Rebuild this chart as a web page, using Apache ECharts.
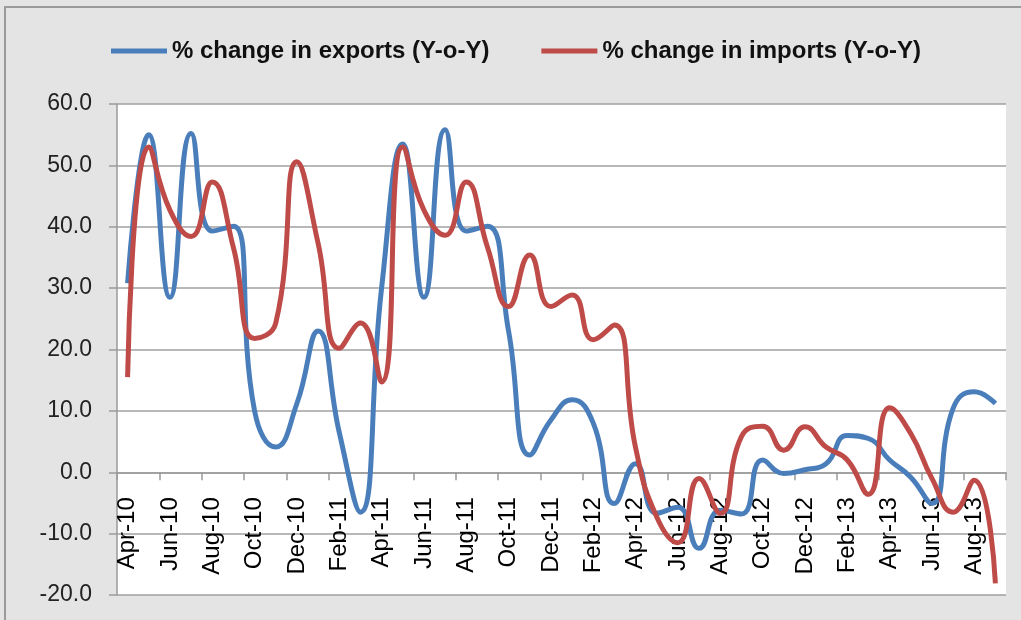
<!DOCTYPE html>
<html>
<head>
<meta charset="utf-8">
<script src="https://cdn.jsdelivr.net/npm/echarts@6/dist/echarts.min.js"></script>
<style>
  html, body { margin: 0; padding: 0; background: #e4e4e4; }
  #chart { width: 1021px; height: 620px; }
</style>
</head>
<body>
<div id="chart"></div>
<script>
var months = ['Apr-10', 'May-10', 'Jun-10', 'Jul-10', 'Aug-10', 'Sep-10', 'Oct-10', 'Nov-10', 'Dec-10', 'Jan-11',
    'Feb-11', 'Mar-11', 'Apr-11', 'May-11', 'Jun-11', 'Jul-11', 'Aug-11', 'Sep-11', 'Oct-11', 'Nov-11',
    'Dec-11', 'Jan-12', 'Feb-12', 'Mar-12', 'Apr-12', 'May-12', 'Jun-12', 'Jul-12', 'Aug-12', 'Sep-12',
    'Oct-12', 'Nov-12', 'Dec-12', 'Jan-13', 'Feb-13', 'Mar-13', 'Apr-13', 'May-13', 'Jun-13', 'Jul-13',
    'Aug-13', 'Sep-13'];

// % change in exports (Y-o-Y)
var exportsChg = [30.8, 55.0, 28.5, 55.2, 39.3, 40.1, 10.0, 4.1, 11.2, 23.0,
    6.5, -6.5, 30.0, 53.5, 28.5, 55.8, 39.3, 40.1, 23.0, 2.8,
    8.5, 11.8, 8.0, -5.1, 1.4, -6.7, -5.7, -12.4, -6.2, -6.8,
    2.0, -0.2, 0.4, 1.4, 6.0, 5.5, 2.0, -0.8, -5.1, 10.4,
    13.1, 11.2];

// % change in imports (Y-o-Y)
var importsChg = [15.5, 53.0, 42.7, 38.4, 47.3, 36.6, 21.8, 24.3, 50.6, 37.3,
    20.2, 24.3, 14.7, 53.0, 42.7, 38.6, 47.3, 36.7, 27.0, 35.4,
    27.0, 28.9, 21.6, 24.0, 4.0, -7.3, -11.5, -1.0, -6.7, 5.8,
    7.5, 3.6, 7.4, 4.1, 2.0, -3.6, 10.5, 6.3, -1.0, -6.5,
    -1.3, -18.1];

var yMin = -20, yMax = 60, yStep = 10;

var gridTop = 104, gridBottom = 25, chartH = 620;
// x axis sits on the zero line: shift it up from the grid bottom
var plotH = chartH - gridTop - gridBottom;
var zeroOffset = -plotH * (0 - yMin) / (yMax - yMin);

var myChart = echarts.init(document.getElementById('chart'));

var option = {
    animation: false,
    backgroundColor: '#e4e4e4',
    textStyle: { fontFamily: 'Liberation Sans, Arial, sans-serif' },
    graphic: [{
        type: 'rect',
        shape: { x: 5, y: 7, width: 1100, height: 700 },
        style: { fill: null, stroke: '#9a9a9a', lineWidth: 2 },
        silent: true
    }],
    legend: {
        left: 106,
        top: 34,
        itemWidth: 56,
        itemHeight: 5,
        itemGap: 52,
        icon: 'rect',
        textStyle: { fontSize: 24, fontWeight: 'bold', color: '#111' },
        data: ['% change in exports (Y-o-Y)', '% change in imports (Y-o-Y)']
    },
    grid: {
        left: 117,
        right: 15,
        top: gridTop,
        bottom: gridBottom,
        outerBoundsMode: 'none',
        show: true,
        backgroundColor: '#ffffff',
        borderWidth: 0
    },
    xAxis: {
        type: 'category',
        data: months,
        position: 'bottom',
        offset: zeroOffset,
        boundaryGap: true,
        axisLine: { onZero: false, lineStyle: { color: '#9a9a9a', width: 1.5 } },
        axisTick: { show: true, interval: 1, length: 8, lineStyle: { color: '#9a9a9a', width: 1.5 } },
        axisLabel: { show: true, interval: 1, rotate: 90, margin: 25, fontSize: 24, color: '#000' },
        splitLine: { show: false }
    },
    yAxis: {
        type: 'value',
        min: yMin,
        max: yMax,
        interval: yStep,
        axisLine: { show: true, lineStyle: { color: '#9a9a9a', width: 1.5 } },
        axisTick: { show: true, length: 8, lineStyle: { color: '#9a9a9a', width: 1.5 } },
        axisLabel: {
            margin: 25,
            fontSize: 23,
            color: '#222',
            formatter: function (v) { return v.toFixed(1); }
        },
        splitLine: { show: true, lineStyle: { color: '#a0a0a0', width: 1.5 } }
    },
    series: [{
        name: '% change in exports (Y-o-Y)',
        type: 'line',
        data: exportsChg,
        smooth: true,
        showSymbol: false,
        itemStyle: { color: '#4A7EBB' },
        lineStyle: { color: '#4A7EBB', width: 5 }
    }, {
        name: '% change in imports (Y-o-Y)',
        type: 'line',
        data: importsChg,
        smooth: true,
        showSymbol: false,
        itemStyle: { color: '#BE4B48' },
        lineStyle: { color: '#BE4B48', width: 5 }
    }]
};

myChart.setOption(option);
</script>
</body>
</html>
